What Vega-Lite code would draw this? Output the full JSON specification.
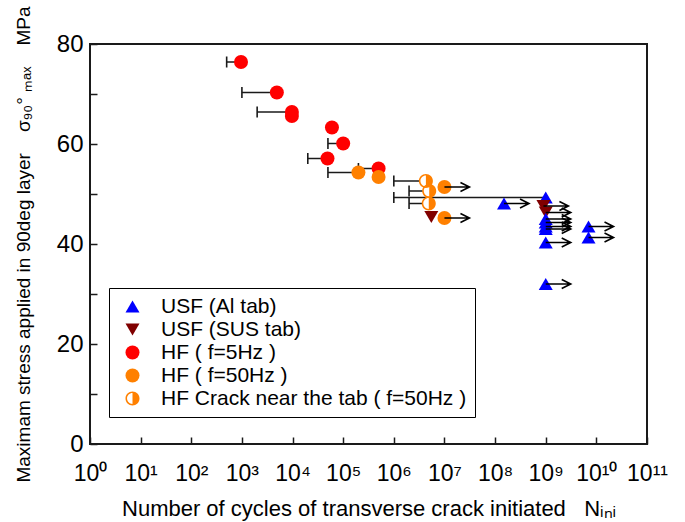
{
  "$schema": "https://vega.github.io/schema/vega-lite/v6.json",
  "width": 557,
  "height": 400,
  "autosize": {"type": "none"},
  "padding": {"left": 90, "top": 44, "right": 38, "bottom": 78},
  "background": "white",
  "config": {
    "font": "Liberation Sans",
    "view": {"stroke": "#1a1a1a", "strokeWidth": 2},
    "axis": {
      "domain": false,
      "grid": false,
      "tickColor": "#1a1a1a",
      "tickWidth": 1.5,
      "labelColor": "black",
      "titleColor": "black",
      "labelFont": "Liberation Sans",
      "titleFont": "Liberation Sans",
      "titleFontWeight": "normal"
    },
    "legend": {
      "orient": "none",
      "legendX": 19,
      "legendY": 244,
      "strokeColor": "black",
      "fillColor": "white",
      "padding": 8,
      "labelFont": "Liberation Sans",
      "labelFontSize": 21,
      "labelColor": "black",
      "labelLimit": 500,
      "rowPadding": 1,
      "labelOffset": 18,
      "symbolOffset": 5
    }
  },
  "datasets": {
    "pts": [
      {"cat": "USF (Al tab)", "N": 150000000, "S": 48.1, "lo": null, "runout": true},
      {"cat": "USF (Al tab)", "N": 1000000000, "S": 49.3, "lo": 1000000, "runout": false},
      {"cat": "USF (SUS tab)", "N": 5500000, "S": 45.4, "lo": null, "runout": false},
      {"cat": "USF (SUS tab)", "N": 900000000, "S": 47.6, "lo": null, "runout": true},
      {"cat": "USF (SUS tab)", "N": 1000000000, "S": 46.3, "lo": null, "runout": true},
      {"cat": "USF (Al tab)", "N": 1000000000, "S": 45.0, "lo": null, "runout": true},
      {"cat": "USF (Al tab)", "N": 1000000000, "S": 44.3, "lo": null, "runout": true},
      {"cat": "USF (Al tab)", "N": 1000000000, "S": 43.5, "lo": null, "runout": true},
      {"cat": "USF (Al tab)", "N": 1000000000, "S": 43.0, "lo": null, "runout": true},
      {"cat": "USF (Al tab)", "N": 1000000000, "S": 40.3, "lo": null, "runout": true},
      {"cat": "USF (Al tab)", "N": 1000000000, "S": 32.0, "lo": null, "runout": true},
      {"cat": "USF (Al tab)", "N": 7000000000, "S": 43.5, "lo": null, "runout": true},
      {"cat": "USF (Al tab)", "N": 7000000000, "S": 41.3, "lo": null, "runout": true},
      {"cat": "HF ( f=5Hz )", "N": 960, "S": 76.4, "lo": 500, "runout": false},
      {"cat": "HF ( f=5Hz )", "N": 4900, "S": 70.3, "lo": 1000, "runout": false},
      {"cat": "HF ( f=5Hz )", "N": 9700, "S": 66.4, "lo": 2000, "runout": false},
      {"cat": "HF ( f=5Hz )", "N": 9700, "S": 65.6, "lo": null, "runout": false},
      {"cat": "HF ( f=5Hz )", "N": 60000, "S": 63.3, "lo": null, "runout": false},
      {"cat": "HF ( f=5Hz )", "N": 100000, "S": 60.1, "lo": 50000, "runout": false},
      {"cat": "HF ( f=5Hz )", "N": 49000, "S": 57.1, "lo": 20000, "runout": false},
      {"cat": "HF ( f=5Hz )", "N": 500000, "S": 55.1, "lo": 200000, "runout": false},
      {"cat": "HF ( f=50Hz )", "N": 200000, "S": 54.3, "lo": 50000, "runout": false},
      {"cat": "HF ( f=50Hz )", "N": 500000, "S": 53.4, "lo": null, "runout": false},
      {"cat": "HF ( f=50Hz )", "N": 10000000, "S": 51.4, "lo": null, "runout": true},
      {"cat": "HF ( f=50Hz )", "N": 10000000, "S": 45.2, "lo": null, "runout": true},
      {"cat": "HF Crack near the tab ( f=50Hz )", "N": 4300000, "S": 52.6, "lo": 1000000, "runout": false},
      {"cat": "HF Crack near the tab ( f=50Hz )", "N": 5000000, "S": 50.6, "lo": 2000000, "runout": false},
      {"cat": "HF Crack near the tab ( f=50Hz )", "N": 4900000, "S": 48.1, "lo": 2000000, "runout": false}
    ]
  },
  "data": {"name": "pts"},
  "encoding": {
    "x": {
      "field": "N", "type": "quantitative",
      "scale": {"type": "log", "domain": [1, 100000000000], "nice": false},
      "axis": {
        "values": [1, 10, 100, 1000, 10000, 100000, 1000000, 10000000, 100000000, 1000000000, 10000000000, 100000000000],
        "labelExpr": "'10' + ['⁰','¹','²','³','⁴','⁵','⁶','⁷','⁸','⁹','¹⁰','¹¹'][round(log(datum.value)/LN10)]",
        "tickSize": -7,
        "labelPadding": 25,
        "labelFontSize": 23,
        "labelOverlap": false,
        "labelFlush": false,
        "title": "Number of cycles of transverse crack initiated\u00a0\u00a0\u00a0Nᵢₙᵢ",
        "titleFontSize": 22,
        "titlePadding": 13
      }
    },
    "y": {
      "field": "S", "type": "quantitative",
      "scale": {"domain": [0, 80], "nice": false},
      "axis": {
        "values": [0, 10, 20, 30, 40, 50, 60, 70, 80],
        "labelExpr": "datum.value % 20 === 0 ? datum.label : ''",
        "tickSize": -7,
        "labelPadding": 14,
        "labelFontSize": 24,
        "title": "Maximam stress applied in 90deg layer\u00a0\u00a0\u00a0\u00a0σ₉₀° ₘₐₓ\u00a0\u00a0\u00a0\u00a0MPa",
        "titleFontSize": 19,
        "titlePadding": 23
      }
    }
  },
  "layer": [
    {
      "transform": [{"filter": "datum.lo != null"}],
      "mark": {"type": "rule", "color": "#1a1a1a", "strokeWidth": 1.5},
      "encoding": {
        "x": {
          "field": "lo", "type": "quantitative",
          "scale": {"type": "log", "domain": [1, 100000000000], "nice": false},
          "axis": {
            "values": [1, 10, 100, 1000, 10000, 100000, 1000000, 10000000, 100000000, 1000000000, 10000000000, 100000000000],
            "labelExpr": "'10' + ['⁰','¹','²','³','⁴','⁵','⁶','⁷','⁸','⁹','¹⁰','¹¹'][round(log(datum.value)/LN10)]",
            "tickSize": -7,
            "labelPadding": 25,
            "labelFontSize": 23,
            "labelOverlap": false,
            "labelFlush": false,
            "title": "Number of cycles of transverse crack initiated\u00a0\u00a0\u00a0Nᵢₙᵢ",
            "titleFontSize": 22,
            "titlePadding": 13
          }
        },
        "x2": {"field": "N"}
      }
    },
    {
      "transform": [{"filter": "datum.lo != null"}],
      "mark": {"type": "point", "shape": "M0,-1V1", "size": 121, "filled": false, "color": "#1a1a1a", "strokeWidth": 1.6, "opacity": 1},
      "encoding": {
        "x": {
          "field": "lo", "type": "quantitative",
          "scale": {"type": "log", "domain": [1, 100000000000], "nice": false},
          "axis": {
            "values": [1, 10, 100, 1000, 10000, 100000, 1000000, 10000000, 100000000, 1000000000, 10000000000, 100000000000],
            "labelExpr": "'10' + ['⁰','¹','²','³','⁴','⁵','⁶','⁷','⁸','⁹','¹⁰','¹¹'][round(log(datum.value)/LN10)]",
            "tickSize": -7,
            "labelPadding": 25,
            "labelFontSize": 23,
            "labelOverlap": false,
            "labelFlush": false,
            "title": "Number of cycles of transverse crack initiated\u00a0\u00a0\u00a0Nᵢₙᵢ",
            "titleFontSize": 22,
            "titlePadding": 13
          }
        }
      }
    },
    {
      "transform": [{"filter": "datum.cat == 'HF Crack near the tab ( f=50Hz )'"}],
      "mark": {"type": "point", "shape": "circle", "size": 169, "filled": true, "color": "white", "opacity": 1}
    },
    {
      "mark": {"type": "point", "filled": true, "opacity": 1},
      "encoding": {
        "color": {
          "field": "cat", "type": "nominal",
          "scale": {
            "domain": ["USF (Al tab)", "USF (SUS tab)", "HF ( f=5Hz )", "HF ( f=50Hz )", "HF Crack near the tab ( f=50Hz )"],
            "range": ["#0000ff", "#800000", "#ff0000", "#ff8000", "#ff8000"]
          },
          "legend": {"title": null}
        },
        "shape": {
          "field": "cat", "type": "nominal",
          "scale": {
            "domain": ["USF (Al tab)", "USF (SUS tab)", "HF ( f=5Hz )", "HF ( f=50Hz )", "HF Crack near the tab ( f=50Hz )"],
            "range": ["triangle-up", "triangle-down", "circle", "circle", "M0,-1A1,1,0,1,1,0,1A1,1,0,1,1,0,-1ZM0,-0.78A0.78,0.78,0,0,0,0,0.78Z"]
          },
          "legend": {"title": null}
        },
        "size": {
          "field": "cat", "type": "nominal",
          "scale": {
            "domain": ["USF (Al tab)", "USF (SUS tab)", "HF ( f=5Hz )", "HF ( f=50Hz )", "HF Crack near the tab ( f=50Hz )"],
            "range": [196, 196, 169, 169, 169]
          },
          "legend": {"title": null}
        }
      }
    },
    {
      "transform": [{"filter": "datum.runout"}],
      "mark": {"type": "point", "shape": "M0,0H2M1.28,-0.36L2,0L1.28,0.36", "size": 625, "filled": false, "color": "black", "strokeWidth": 1.6, "opacity": 1}
    }
  ]
}
